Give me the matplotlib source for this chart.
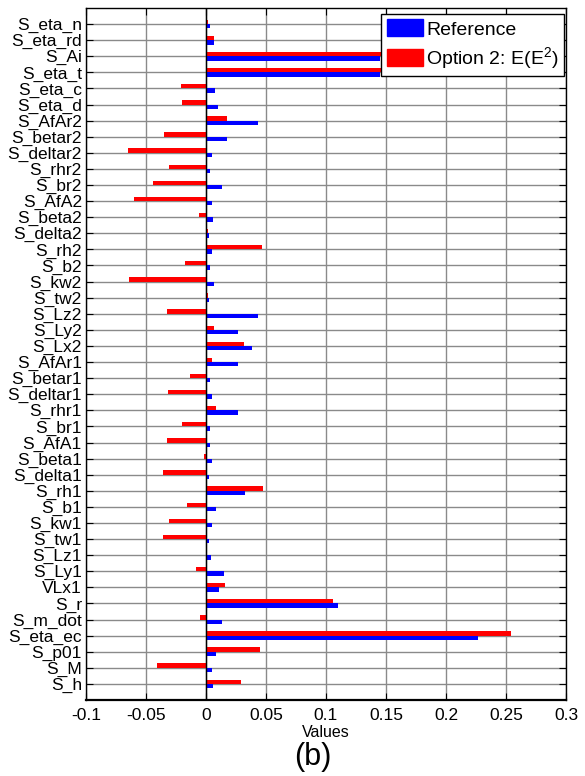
import numpy as np
import matplotlib
matplotlib.use("Agg")
import matplotlib.pyplot as plt
from matplotlib.patches import Patch

plt.rcParams["font.family"] = ["Liberation Sans", "DejaVu Sans"]
plt.rcParams["mathtext.default"] = "regular"

# Sensitivity indices, listed top to bottom as shown on the vertical axis
categories = [
    "S_eta_n", "S_eta_rd", "S_Ai", "S_eta_t", "S_eta_c", "S_eta_d",
    "S_AfAr2", "S_betar2", "S_deltar2", "S_rhr2", "S_br2", "S_AfA2",
    "S_beta2", "S_delta2", "S_rh2", "S_b2", "S_kw2", "S_tw2",
    "S_Lz2", "S_Ly2", "S_Lx2", "S_AfAr1", "S_betar1", "S_deltar1",
    "S_rhr1", "S_br1", "S_AfA1", "S_beta1", "S_delta1", "S_rh1",
    "S_b1", "S_kw1", "S_tw1", "S_Lz1", "S_Ly1", "VLx1",
    "S_r", "S_m_dot", "S_eta_ec", "S_p01", "S_M", "S_h",
]

reference = [
    0.0036, 0.0064, 0.145, 0.145, 0.0072, 0.0097,
    0.0436, 0.0172, 0.0053, 0.0031, 0.0133, 0.0047,
    0.0061, 0.0025, 0.0053, 0.0031, 0.0067, 0.0025,
    0.0436, 0.0267, 0.0383, 0.0267, 0.0031, 0.0047,
    0.0267, 0.0036, 0.0036, 0.0047, 0.0025, 0.0325,
    0.0083, 0.0047, 0.0025, 0.0039, 0.0150, 0.0106,
    0.1100, 0.0133, 0.2267, 0.0083, 0.0053, 0.0061,
]

option2 = [
    0.0014, 0.0064, 0.1455, 0.1455, -0.0206, -0.0200,
    0.0172, -0.0353, -0.0653, -0.0306, -0.0439, -0.0603,
    -0.0056, 0.0017, 0.0467, -0.0175, -0.0639, 0.0014,
    -0.0328, 0.0067, 0.0319, 0.0047, -0.0136, -0.0314,
    0.0083, -0.0197, -0.0328, -0.0014, -0.0358, 0.0475,
    -0.0158, -0.0308, -0.0358, 0.0006, -0.0083, 0.0158,
    0.1056, -0.0050, 0.2539, 0.0453, -0.0411, 0.0292,
]

series_labels = ["Reference", "Option 2: E(E$^2$)"]
series_colors = ["#0000ff", "#ff0000"]
x_ticks = [-0.1, -0.05, 0, 0.05, 0.1, 0.15, 0.2, 0.25, 0.3]
x_tick_labels = ["-0.1", "-0.05", "0", "0.05", "0.1", "0.15", "0.2", "0.25", "0.3"]

n = len(categories)
pos = np.arange(n, 0, -1)
bar_h = 0.27

fig = plt.figure(figsize=(5.85, 7.76), dpi=100)
ax = fig.add_axes([86 / 585, 1 - 700 / 776, 480 / 585, 692 / 776])

ax.barh(pos - bar_h / 2, reference, height=bar_h, color=series_colors[0],
        linewidth=0, zorder=3)
ax.barh(pos + bar_h / 2, option2, height=bar_h, color=series_colors[1],
        linewidth=0, zorder=3)
ax.axvline(0, color="black", linewidth=1.0, zorder=4)

ax.set_xlim(-0.1, 0.3)
ax.set_ylim(0, n + 1)
ax.set_xticks(x_ticks)
ax.set_xticklabels(x_tick_labels)
ax.set_yticks(pos)
ax.set_yticklabels(categories)

ax.grid(True, color="#8a8a8a", linewidth=1.0, zorder=0)
ax.set_axisbelow(True)

ax.tick_params(axis="both", direction="in", length=5, width=0.8,
               top=True, right=True, labelsize=12.5, colors="black")
ax.tick_params(axis="y", pad=3)
ax.tick_params(axis="x", pad=6)
for side in ["left", "right", "top"]:
    ax.spines[side].set_linewidth(1.0)
ax.spines["bottom"].set_linewidth(1.6)

ax.set_xlabel("Values", fontsize=11.5, labelpad=1)

handles = [Patch(facecolor=c, edgecolor=c) for c in series_colors]
leg = ax.legend(handles, series_labels, loc="upper right",
                bbox_to_anchor=(0.996, 0.991), borderaxespad=0,
                fontsize=14, frameon=True, fancybox=False,
                handlelength=1.9, handleheight=0.98, handletextpad=0.15,
                labelspacing=0.36, borderpad=0.26)
leg.get_frame().set_edgecolor("black")
leg.get_frame().set_linewidth(1.0)
leg.get_frame().set_alpha(1.0)

fig.text(313 / 585, 1 - 757 / 776, "(b)", fontsize=22, ha="center", va="center")

fig.savefig("out.png", dpi=100)
